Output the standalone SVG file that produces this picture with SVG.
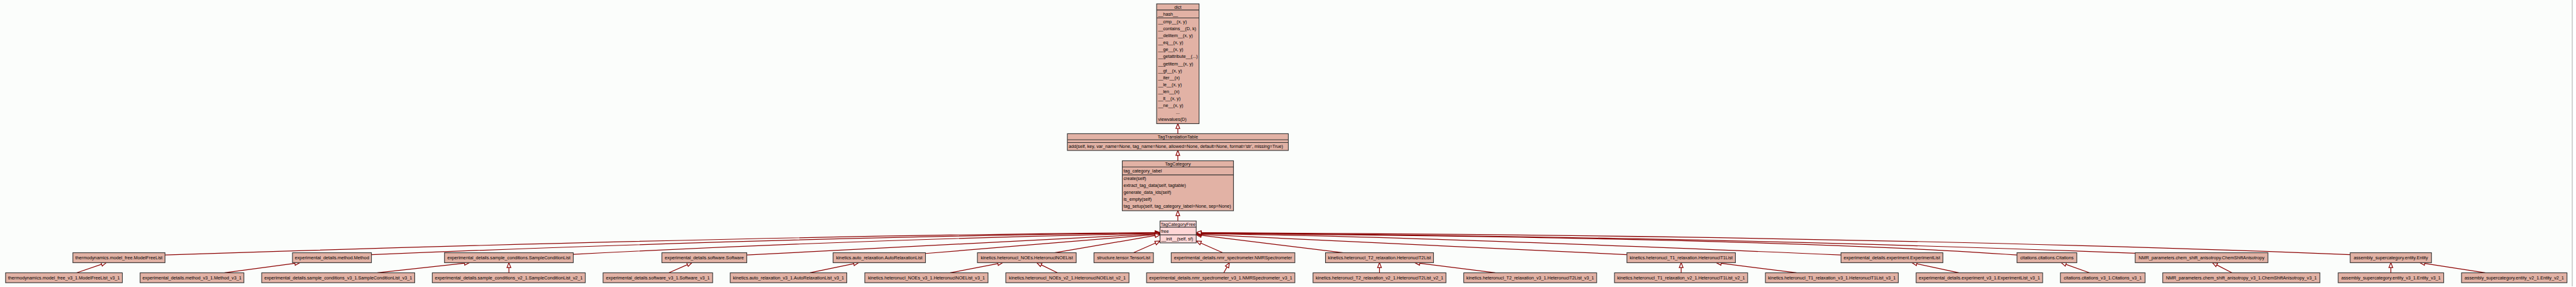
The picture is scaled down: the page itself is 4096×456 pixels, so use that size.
<svg xmlns="http://www.w3.org/2000/svg" width="4096" height="456" viewBox="0 0 4096 456">
<style>
.c{fill:#e2b2a5;stroke:#333;stroke-width:2}
.f{fill:#fed6d6;stroke:#333;stroke-width:2}
.s{stroke:#333;stroke-width:2}
text{font-family:"Liberation Sans",Arial,Helvetica,sans-serif;font-size:13px;fill:#000}
.m{text-anchor:middle}
.e{fill:none;stroke:#8b0000;stroke-width:2.2;marker-end:url(#ah)}
</style>
<defs>
<marker id="ah" viewBox="-2 -8 19 16" refX="14" refY="0" markerWidth="19" markerHeight="16" markerUnits="userSpaceOnUse" orient="auto">
<path d="M0,-5.5 L14,0 L0,5.5 Z" fill="#fbfdfb" stroke="#8b0000" stroke-width="2.2"/>
</marker>
</defs>
<rect x="0" y="0" width="4096" height="456" fill="#ffffff"/>
<g transform="scale(0.555)">
<rect x="0" y="0" width="7369" height="820" fill="#fbfdfb"/>
<line x1="7369.5" y1="0" x2="7369.5" y2="820" stroke="#b0b0b0" stroke-width="2"/>

<g id="edges">
<path class="e" d="M3374.5,382.7 L3374.5,354"/>
<path class="e" d="M3374.5,460.3 L3374.5,430.7"/>
<path class="e" d="M3374.5,632.7 L3374.5,603.3"/>
<path class="e" d="M472.7,730 Q2180,674 3323.4,666"/>
<path class="e" d="M1064.1,729 Q2300,678 3323.4,667"/>
<path class="e" d="M1642.4,728 Q2500,684 3323.4,668"/>
<path class="e" d="M2139.5,730 L3323.4,669"/>
<path class="e" d="M2651.4,725.7 L3323.4,670.5"/>
<path class="e" d="M3021,723.5 L3323.4,672"/>
<path class="e" d="M3247.5,723.5 L3323.4,690"/>
<path class="e" d="M3503,723.5 L3427.2,690"/>
<path class="e" d="M3849,723.5 L3427.2,672"/>
<path class="e" d="M4661.1,729 L3427.2,670.5"/>
<path class="e" d="M5274.4,730 Q4000,675 3427.2,669"/>
<path class="e" d="M5778.6,730 Q5094,681 3427.2,668"/>
<path class="e" d="M6117.3,725 Q4879,677 3427.2,667"/>
<path class="e" d="M6733.3,729 Q5351,674 3427.2,666"/>
<path class="e" d="M219.4,781 L304.3,752"/>
<path class="e" d="M643.5,781 L858.8,752"/>
<path class="e" d="M1081.3,781 L1344.7,752"/>
<path class="e" d="M1458,781 L1458,752"/>
<path class="e" d="M1915.9,781 L1982.3,752"/>
<path class="e" d="M2320.4,781 L2459.8,752"/>
<path class="e" d="M2721.9,781 L2872.7,752"/>
<path class="e" d="M3029.9,781 L2970.6,752"/>
<path class="e" d="M3506.1,781 L3522.1,752"/>
<path class="e" d="M3952.2,781 L3952.2,752"/>
<path class="e" d="M4283.8,781 L4053.7,752"/>
<path class="e" d="M4816.5,781 L4816.5,752"/>
<path class="e" d="M5146.8,781 L4917.3,752"/>
<path class="e" d="M5611.9,781 L5477.8,752"/>
<path class="e" d="M5986.8,781 L5905.5,752"/>
<path class="e" d="M6394.8,781 L6338.5,752"/>
<path class="e" d="M6849.7,781 L6849.7,752"/>
<path class="e" d="M7119.9,781 L6932.8,752"/>
</g>

<g id="n_dict">
<rect class="c" x="3313.7" y="11" width="121.6" height="343"/>
<line class="s" x1="3313.7" y1="28.7" x2="3435.3" y2="28.7"/>
<line class="s" x1="3313.7" y1="51.3" x2="3435.3" y2="51.3"/>
<text class="m" x="3374.5" y="24.4">dict</text>
<text x="3318" y="44.3">__hash__</text>
<text x="3318" y="66.6">__cmp__(x, y)</text>
<text x="3318" y="86.6">__contains__(D, k)</text>
<text x="3318" y="106.6">__delitem__(x, y)</text>
<text x="3318" y="126.6">__eq__(x, y)</text>
<text x="3318" y="146.6">__ge__(x, y)</text>
<text x="3318" y="166.6">__getattribute__(...)</text>
<text x="3318" y="186.6">__getitem__(x, y)</text>
<text x="3318" y="206.6">__gt__(x, y)</text>
<text x="3318" y="226.6">__iter__(x)</text>
<text x="3318" y="246.6">__le__(x, y)</text>
<text x="3318" y="266.6">__len__(x)</text>
<text x="3318" y="286.6">__lt__(x, y)</text>
<text x="3318" y="306.6">__ne__(x, y)</text>
<text class="m" x="3374.5" y="326.6">...</text>
<text x="3318" y="346.6">viewvalues(D)</text>
</g>

<g id="n_TagTranslationTable">
<rect class="c" x="3058" y="382.7" width="633" height="48"/>
<line class="s" x1="3058" y1="400" x2="3691" y2="400"/>
<line class="s" x1="3058" y1="408" x2="3691" y2="408"/>
<text class="m" x="3374.5" y="395.9">TagTranslationTable</text>
<text x="3061.5" y="423.9">add(self, key, var_name=None, tag_name=None, allowed=None, default=None, format='str', missing=True)</text>
</g>

<g id="n_TagCategory">
<rect class="c" x="3215.3" y="460.3" width="318.7" height="143"/>
<line class="s" x1="3215.3" y1="478" x2="3534" y2="478"/>
<line class="s" x1="3215.3" y1="500.7" x2="3534" y2="500.7"/>
<text class="m" x="3374.6" y="473.6">TagCategory</text>
<text x="3218.8" y="493.9">tag_category_label</text>
<text x="3218.8" y="515.3">create(self)</text>
<text x="3218.8" y="535.3">extract_tag_data(self, tagtable)</text>
<text x="3218.8" y="555.3">generate_data_ids(self)</text>
<text x="3218.8" y="575.3">is_empty(self)</text>
<text x="3218.8" y="595.3">tag_setup(self, tag_category_label=None, sep=None)</text>
</g>

<g id="n_TagCategoryFree">
<rect class="f" x="3323.4" y="632.7" width="103.8" height="62.6"/>
<line class="s" x1="3323.4" y1="650.3" x2="3427.2" y2="650.3"/>
<line class="s" x1="3323.4" y1="672.3" x2="3427.2" y2="672.3"/>
<text class="m" x="3375.3" y="646.1">TagCategoryFree</text>
<text x="3326.5" y="665.9">free</text>
<text x="3326.5" y="688.4">__init__(self, sf)</text>
</g>

<g id="n_ModelFreeList"><rect class="c" x="208.8" y="723.5" width="263.9" height="28.5"/><text class="m" x="340.75" y="742.3">thermodynamics.model_free.ModelFreeList</text></g>
<g id="n_Method"><rect class="c" x="838" y="723.5" width="226.1" height="28.5"/><text class="m" x="951.05" y="742.3">experimental_details.method.Method</text></g>
<g id="n_SampleConditionList"><rect class="c" x="1273.5" y="723.5" width="368.9" height="28.5"/><text class="m" x="1457.95" y="742.3">experimental_details.sample_conditions.SampleConditionList</text></g>
<g id="n_Software"><rect class="c" x="1896.3" y="723.5" width="243.2" height="28.5"/><text class="m" x="2017.9" y="742.3">experimental_details.software.Software</text></g>
<g id="n_AutoRelaxationList"><rect class="c" x="2386.8" y="723.5" width="264.6" height="28.5"/><text class="m" x="2519.1" y="742.3">kinetics.auto_relaxation.AutoRelaxationList</text></g>
<g id="n_HeteronuclNOEList"><rect class="c" x="2800.3" y="723.5" width="282.9" height="28.5"/><text class="m" x="2941.75" y="742.3">kinetics.heteronucl_NOEs.HeteronuclNOEList</text></g>
<g id="n_TensorList"><rect class="c" x="3134.2" y="723.5" width="170.3" height="28.5"/><text class="m" x="3219.35" y="742.3">structure.tensor.TensorList</text></g>
<g id="n_NMRSpectrometer"><rect class="c" x="3355.5" y="723.5" width="354.2" height="28.5"/><text class="m" x="3532.6" y="742.3">experimental_details.nmr_spectrometer.NMRSpectrometer</text></g>
<g id="n_HeteronuclT2List"><rect class="c" x="3797.4" y="723.5" width="309.6" height="28.5"/><text class="m" x="3952.2" y="742.3">kinetics.heteronucl_T2_relaxation.HeteronuclT2List</text></g>
<g id="n_HeteronuclT1List"><rect class="c" x="4661.1" y="723.5" width="310.8" height="28.5"/><text class="m" x="4816.5" y="742.3">kinetics.heteronucl_T1_relaxation.HeteronuclT1List</text></g>
<g id="n_ExperimentList"><rect class="c" x="5274.4" y="723.5" width="291.9" height="28.5"/><text class="m" x="5420.35" y="742.3">experimental_details.experiment.ExperimentList</text></g>
<g id="n_Citations"><rect class="c" x="5778.6" y="723.5" width="171.4" height="28.5"/><text class="m" x="5864.3" y="742.3">citations.citations.Citations</text></g>
<g id="n_ChemShiftAnisotropy"><rect class="c" x="6117.3" y="723.5" width="380.2" height="28.5"/><text class="m" x="6307.4" y="742.3">NMR_parameters.chem_shift_anisotropy.ChemShiftAnisotropy</text></g>
<g id="n_Entity"><rect class="c" x="6733.3" y="723.5" width="232.8" height="28.5"/><text class="m" x="6849.7" y="742.3">assembly_supercategory.entity.Entity</text></g>

<g id="n_ModelFreeList_v3_1"><rect class="c" x="16" y="781" width="334.5" height="28.3"/><text class="m" x="183.25" y="799.6">thermodynamics.model_free_v3_1.ModelFreeList_v3_1</text></g>
<g id="n_Method_v3_1"><rect class="c" x="401.5" y="781" width="297.2" height="28.3"/><text class="m" x="550.1" y="799.6">experimental_details.method_v3_1.Method_v3_1</text></g>
<g id="n_SampleConditionList_v3_1"><rect class="c" x="749.7" y="781" width="438.4" height="28.3"/><text class="m" x="968.9" y="799.6">experimental_details.sample_conditions_v3_1.SampleConditionList_v3_1</text></g>
<g id="n_SampleConditionList_v2_1"><rect class="c" x="1238.5" y="781" width="438.3" height="28.3"/><text class="m" x="1457.65" y="799.6">experimental_details.sample_conditions_v2_1.SampleConditionList_v2_1</text></g>
<g id="n_Software_v3_1"><rect class="c" x="1727.8" y="781" width="313.9" height="28.3"/><text class="m" x="1884.75" y="799.6">experimental_details.software_v3_1.Software_v3_1</text></g>
<g id="n_AutoRelaxationList_v3_1"><rect class="c" x="2092.1" y="781" width="333.9" height="28.3"/><text class="m" x="2259.05" y="799.6">kinetics.auto_relaxation_v3_1.AutoRelaxationList_v3_1</text></g>
<g id="n_HeteronuclNOEList_v3_1"><rect class="c" x="2477.6" y="781" width="353" height="28.3"/><text class="m" x="2654.1" y="799.6">kinetics.heteronucl_NOEs_v3_1.HeteronuclNOEList_v3_1</text></g>
<g id="n_HeteronuclNOEList_v2_1"><rect class="c" x="2881.6" y="781" width="352.9" height="28.3"/><text class="m" x="3058.05" y="799.6">kinetics.heteronucl_NOEs_v2_1.HeteronuclNOEList_v2_1</text></g>
<g id="n_NMRSpectrometer_v3_1"><rect class="c" x="3284.9" y="781" width="424.8" height="28.3"/><text class="m" x="3497.3" y="799.6">experimental_details.nmr_spectrometer_v3_1.NMRSpectrometer_v3_1</text></g>
<g id="n_HeteronuclT2List_v2_1"><rect class="c" x="3761.8" y="781" width="380.8" height="28.3"/><text class="m" x="3952.2" y="799.6">kinetics.heteronucl_T2_relaxation_v2_1.HeteronuclT2List_v2_1</text></g>
<g id="n_HeteronuclT2List_v3_1"><rect class="c" x="4193.6" y="781" width="380.8" height="28.3"/><text class="m" x="4384" y="799.6">kinetics.heteronucl_T2_relaxation_v3_1.HeteronuclT2List_v3_1</text></g>
<g id="n_HeteronuclT1List_v2_1"><rect class="c" x="4625.5" y="781" width="381.4" height="28.3"/><text class="m" x="4816.2" y="799.6">kinetics.heteronucl_T1_relaxation_v2_1.HeteronuclT1List_v2_1</text></g>
<g id="n_HeteronuclT1List_v3_1"><rect class="c" x="5057.9" y="781" width="380.7" height="28.3"/><text class="m" x="5248.25" y="799.6">kinetics.heteronucl_T1_relaxation_v3_1.HeteronuclT1List_v3_1</text></g>
<g id="n_ExperimentList_v3_1"><rect class="c" x="5489.7" y="781" width="362.4" height="28.3"/><text class="m" x="5670.9" y="799.6">experimental_details.experiment_v3_1.ExperimentList_v3_1</text></g>
<g id="n_Citations_v3_1"><rect class="c" x="5903.1" y="781" width="242.6" height="28.3"/><text class="m" x="6024.4" y="799.6">citations.citations_v3_1.Citations_v3_1</text></g>
<g id="n_ChemShiftAnisotropy_v3_1"><rect class="c" x="6196.1" y="781" width="450.3" height="28.3"/><text class="m" x="6421.25" y="799.6">NMR_parameters.chem_shift_anisotropy_v3_1.ChemShiftAnisotropy_v3_1</text></g>
<g id="n_Entity_v3_1"><rect class="c" x="6698.9" y="781" width="302.2" height="28.3"/><text class="m" x="6850" y="799.6">assembly_supercategory.entity_v3_1.Entity_v3_1</text></g>
<g id="n_Entity_v2_1"><rect class="c" x="7052.2" y="781" width="302.2" height="28.3"/><text class="m" x="7203.3" y="799.6">assembly_supercategory.entity_v2_1.Entity_v2_1</text></g>
</g>
</svg>
